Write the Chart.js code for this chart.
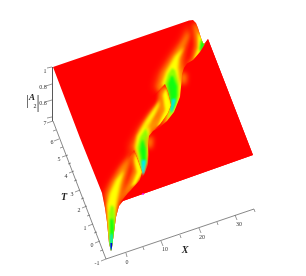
<!DOCTYPE html>
<html><head><meta charset="utf-8">
<style>html,body{margin:0;padding:0;background:#fff}#w{position:relative;width:306px;height:276px}</style>
<script src="https://cdn.jsdelivr.net/npm/chart.js@4"></script></head>
<body><div id="w"><canvas id="c" width="306" height="276"></canvas></div>
<script>
const RED='#ff0000',OR4='#ff4000',ORG='#ff9000',YEL='#ffff00',LIM='#90ff00',GRN='#10ff10',CYN='#00e8ff',BLU='#0060ff',DBL='#0000e0';
// outline of the surface
const surface=[[53,67],[189,20.5],[193,20],[196,23],[198,28],[201,38],[203,43],[204,44],[208,39],[253,155],[123,201],[119,206],[116,217],[114,232],[112,247],[111,251],[109,243],[107,222],[105,208],[102,193],[80,138]];
const front=[[208,39],[205,44],[200,52],[193,60],[187,63.5],[184,68],[182,74],[181.5,82],[180,97],[174,112],[167,121],[160,127],[153,131],[149,136],[148,145],[148.5,155],[148,165],[144,175],[136,186],[128,193],[120,203],[123,201],[253,155]];
const lobe1=[[165,84],[168,92],[171,105],[168,113],[160,124],[153,131],[140,135],[150,100]];
const lobe2=[[134,150],[138,160],[142,172],[140,180],[131,190],[120,203],[113,204],[122,170]];
// upper edge band
const edgeOrange=[[193,22],[198,26],[206,45],[194,65],[187,65],[192,58],[195,45]];
const edgeYellow=[[198,32],[204,42],[197,60],[194,59],[198,48]];
const edgeGreen=[[201,39],[205,44],[201,52],[199.5,49]];
// first ridge
const ridgeAr=[[187,25],[191,28],[188,42],[185,58],[186,70],[190,82],[186,96],[178,114],[160,128],[167,100],[153,88],[157,74],[169,55],[180,40]];
const ridgeAo=[[188,31],[189,36],[183,50],[181,62],[184,74],[187,88],[182,100],[172,122],[162,126],[170,100],[157,88],[162,72],[172,56],[182,42]];
const ridgeAy=[[184,47],[179,58],[178,68],[182,84],[179,106],[166,124],[172,100],[162,84],[166,72],[175,56]];
const ridgeAl=[[172,68],[175,70],[179,84],[179,96],[176,106],[168,120],[171,104],[167,92],[165,84],[168,74]];
const ridgeAg=[[171,76],[173,76],[177,86],[177,96],[175,104],[171,113],[171,104],[169,92],[168,84]];
const ridgeAc=[[172,99],[176,99],[172,113],[170.5,110]];
// second ridge
const ridgeBr=[[166,84],[160,100],[152,110],[139,126],[128,146],[130,154],[142,176],[152,150],[155,134],[160,116],[166,104]];
const ridgeBo=[[162,94],[158,104],[149,114],[139,130],[133,146],[143,176],[150,150],[152,134],[156,116],[163,104]];
const ridgeBy=[[160,100],[153,110],[145,122],[137,136],[135,148],[143,174],[148,150],[149,134],[152,120],[160,106]];
const ridgeBl=[[146,128],[140,137],[137,148],[142,172],[147,162],[147,146],[148,134]];
const ridgeBg=[[143,139],[141,143],[140,150],[143,168],[146,160],[146,148]];
const ridgeBc=[[141.5,160],[146,160],[144,175],[141.5,172]];
// first lobe edge colours
const lobe1o=[[165,84],[172,105],[168,118],[155,130],[146,128],[157,116],[160,104],[159,92]];
const lobe1y=[[166,88],[172,106],[164,124],[157,127],[165,110],[163,95]];
// second lobe edge colours
const lobe2o=[[134,150],[143,172],[132,190],[122,200],[116,198],[128,182],[133,170],[130,156]];
const lobe2y=[[135,152],[143,172],[136,184],[131,187],[137,172],[134,160]];
// third ridge, running into the spike
const ridgeCr=[[134,148],[122,163],[112,178],[104,192],[107,215],[110,255],[114,255],[118,208],[123,198],[127,180],[130,165]];
const ridgeCo=[[131,155],[120,168],[111,183],[106,196],[107,215],[110,255],[114,255],[117,208],[121,196],[124,180],[128,166]];
const ridgeCy=[[124,170],[116,180],[110,193],[107,205],[109,255],[113,255],[115,215],[117,200],[120,185]];
const ridgeCl=[[111,205],[109,213],[110,255],[113,255],[115,218],[114,207]];
const ridgeCg=[[110,219],[110,255],[113,255],[114,228],[113,219]];
const ridgeCc=[[110.5,234],[110.5,255],[112.5,255],[112.5,234]];
const ridgeCb=[[110.5,243],[110.5,254],[112.5,254],[112.5,243]];
const glowA=[[180,72],[187,74],[186,84],[181,84]];
const glowB=[[147,137],[153,137],[152,148],[147,148]];
const speck=[[143,194]];
// axes
const axisZ=[[52.5,67],[52.5,121]];
const axisT=[[53,121],[106,259]];
const axisX=[[106,259],[254,209]];
const ticksZ=[[[52,67],[47,68]],[[52,84],[46,86]],[[52,100],[45,102]],[[52,117],[47,118]]];
const ticksT=[[[53,121],[47,123]],[[56,130],[53,131]],[[59,139],[54,141]],[[63,147],[60,148]],[[68,155],[62,157]],[[71,163],[68,164]],[[74,171],[69,173]],[[77,180],[74,181]],[[80,190],[75,192]],[[84,198],[81,199]],[[87,206],[82,208]],[[90,215],[87,216]],[[93,224],[88,226]],[[97,232],[94,233]],[[100,241],[95,243]],[[103,250],[100,251]],[[106,259],[101,261]]];
const ticksX=[[[126,253],[127,257]],[[143,247],[144,250]],[[161,241],[163,246]],[[180,235],[181,238]],[[199,228],[201,233]],[[217,222],[218,225]],[[235,215],[237,220]],[[254,209],[255,212]]];
const labelsZ=['1','0.8','0.6'];
const labelsZAt=[[45,71],[43,87.5],[43,103]];
const labelsT=['7','6','5','4','3','2','1','0','-1'];
const labelsTAt=[[45,123.5],[52,142],[59,159],[66,176],[72,194],[79,210],[85,228],[92,245],[97,263]];
const labelsX=['0','10','20','30'];
const labelsXAt=[[127,262],[165,249],[202,237],[239,224]];

const pts=a=>a.map(p=>({x:p[0],y:p[1]}));
const poly=(d,color,blur,mask)=>({data:pts(d),polyFill:color,blur:blur||0,maskData:mask||null,showLine:false,pointRadius:0});
const line=(d,w)=>({data:pts(d),showLine:true,borderColor:'#555',borderWidth:w||0.7,pointRadius:0,fill:false});
const datasets=[
 poly(surface,RED),
 poly(ridgeAr,OR4,3,surface),poly(ridgeAo,ORG,2,surface),poly(ridgeAy,YEL,1.6,surface),poly(ridgeAl,LIM,1.2,surface),poly(ridgeAg,GRN,1,surface),poly(ridgeAc,CYN,0.8,surface),
 poly(edgeOrange,ORG,2,surface),poly(edgeYellow,YEL,1.2,surface),poly(edgeGreen,GRN,1,surface),
 poly(lobe1,RED),
 poly(ridgeBr,OR4,3,surface),poly(ridgeBo,ORG,2,surface),poly(ridgeBy,YEL,1.6,surface),poly(ridgeBl,LIM,1.2,surface),poly(ridgeBg,GRN,1,surface),poly(ridgeBc,CYN,0.8,surface),
 poly(lobe1o,ORG,2,lobe1),poly(lobe1y,YEL,1.2,lobe1),
 poly(lobe2,RED),
 poly(lobe2o,ORG,2,lobe2),poly(lobe2y,YEL,1.2,lobe2),
 poly(ridgeCr,OR4,3,surface),poly(ridgeCo,ORG,2,surface),poly(ridgeCy,YEL,1.6,surface),poly(ridgeCl,LIM,1.2,surface),poly(ridgeCg,GRN,1,surface),poly(ridgeCc,CYN,0.8,surface),poly(ridgeCb,DBL,0.6,surface),
 poly(front,RED),
 poly(glowA,ORG,2.5,surface),poly(glowB,ORG,2.5,surface),
 {data:pts(speck),showLine:false,pointRadius:0.9,pointBackgroundColor:'#ff00ff',pointBorderWidth:0},
 line(axisZ),line(axisT),line(axisX),
 ...ticksZ.map(t=>line(t,0.6)),...ticksT.map(t=>line(t,0.6)),...ticksX.map(t=>line(t,0.6))
];
const painter={id:'painter',beforeDatasetsDraw(chart){
 const {ctx,scales:{x,y}}=chart;
 const trace=a=>{ctx.beginPath();a.forEach((p,i)=>{const X=x.getPixelForValue(p.x),Y=y.getPixelForValue(p.y);i?ctx.lineTo(X,Y):ctx.moveTo(X,Y)});ctx.closePath()};
 chart.data.datasets.forEach(ds=>{
  if(!ds.polyFill)return;
  ctx.save();
  if(ds.maskData){trace(pts(ds.maskData));ctx.clip()}
  if(ds.blur)ctx.filter='blur('+ds.blur+'px)';
  ctx.fillStyle=ds.polyFill;trace(ds.data);ctx.fill();
  ctx.restore();
 });
},afterDatasetsDraw(chart){
 const {ctx,scales:{x,y}}=chart;
 const put=(t,p,font,col)=>{ctx.font=font;ctx.fillStyle=col||'#333';ctx.textAlign='center';ctx.textBaseline='middle';ctx.fillText(t,x.getPixelForValue(p[0]),y.getPixelForValue(p[1]))};
 const small='6px "Liberation Serif"';
 labelsZ.forEach((t,i)=>put(t,labelsZAt[i],small));
 labelsT.forEach((t,i)=>put(t,labelsTAt[i],small));
 labelsX.forEach((t,i)=>put(t,labelsXAt[i],small));
 const ital='italic bold 10px "Liberation Serif"';
 put('X',[185,250],ital,'#222');put('T',[64,197],ital,'#222');
 put('A',[32,98],'italic bold 9px "Liberation Serif"','#222');put('2',[35,106],'6px "Liberation Serif"','#222');
 put('|',[27.5,101],'15px "Liberation Serif"','#444');put('|',[38,103],'18px "Liberation Serif"','#444');
}};
new Chart(document.getElementById('c'),{type:'scatter',data:{datasets},plugins:[painter],options:{
 responsive:false,animation:false,layout:{padding:0,autoPadding:false},
 plugins:{legend:{display:false},tooltip:{enabled:false},title:{display:false}},
 scales:{x:{type:'linear',min:0,max:306,display:false},y:{type:'linear',min:0,max:276,reverse:true,display:false}}
}});
</script></body></html>
